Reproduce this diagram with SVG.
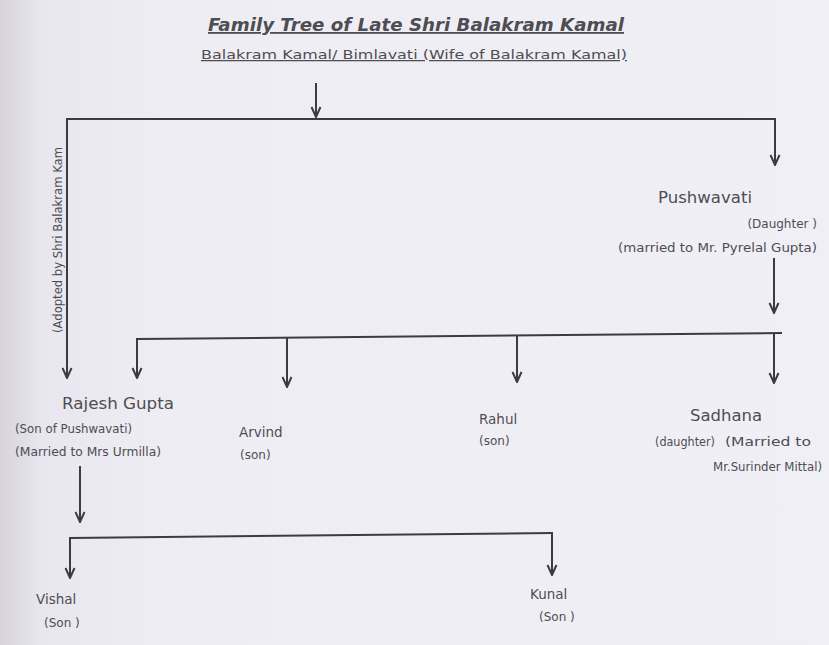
<svg xmlns="http://www.w3.org/2000/svg" width="829" height="645" viewBox="0 0 829 645">
<defs>
<linearGradient id="bg" x1="0" y1="0" x2="1" y2="0">
<stop offset="0" stop-color="#d6d3dc"/>
<stop offset="0.05" stop-color="#e8e6ee"/>
<stop offset="0.2" stop-color="#efedf4"/>
<stop offset="1" stop-color="#f1eff6"/>
</linearGradient>
<marker id="ah" viewBox="0 0 12 12" refX="11" refY="6" markerWidth="12" markerHeight="12" markerUnits="userSpaceOnUse" orient="auto">
<path d="M1,1.5 L11,6 L1,10.5" fill="none" stroke="#3c3c40" stroke-width="2"/>
</marker>
<style>
.ln{fill:none;stroke:#3c3c40;stroke-width:2}
.ar{fill:none;stroke:#3c3c40;stroke-width:2;marker-end:url(#ah)}
.t{font-family:"DejaVu Sans",Verdana,sans-serif;fill:#4e4d52}
.nm{font-size:16px}
.nm2{font-size:13.5px}
.sm{font-size:12px}
</style>
</defs>
<rect width="829" height="645" fill="url(#bg)"/>

<g id="title">
<text class="t" x="208" y="31" font-size="18" font-weight="bold" font-style="italic" textLength="416" lengthAdjust="spacingAndGlyphs" text-decoration="underline">Family Tree of Late Shri Balakram Kamal</text>
<text class="t" x="201" y="59" font-size="12.5" textLength="426" lengthAdjust="spacingAndGlyphs" text-decoration="underline">Balakram Kamal/ Bimlavati (Wife of Balakram Kamal)</text>
</g>

<g id="connectors">
<line class="ar" x1="316" y1="83" x2="316" y2="117"/>
<line class="ln" x1="66" y1="119" x2="776" y2="119"/>
<line class="ar" x1="67" y1="118" x2="67" y2="378"/>
<line class="ar" x1="775" y1="118" x2="775" y2="165"/>
<line class="ar" x1="774" y1="258" x2="774" y2="313"/>
<path class="ln" d="M137,339 L782,333"/>
<line class="ar" x1="137" y1="338" x2="137" y2="378"/>
<line class="ar" x1="287" y1="337" x2="287" y2="387"/>
<line class="ar" x1="517" y1="335" x2="517" y2="382"/>
<line class="ar" x1="774" y1="333" x2="774" y2="383"/>
<line class="ar" x1="80" y1="466" x2="80" y2="522"/>
<path class="ln" d="M70,538 L552,533"/>
<line class="ar" x1="552" y1="532" x2="552" y2="575"/>
<line class="ar" x1="70" y1="537" x2="70" y2="578"/>
</g>

<g id="adopted-note">
<text class="t sm" transform="translate(62,333) rotate(-90)" x="0" y="0" textLength="186" lengthAdjust="spacingAndGlyphs">(Adopted by Shri Balakram Kam</text>
</g>

<g id="pushwavati">
<text class="t nm" x="658" y="203" textLength="94" lengthAdjust="spacingAndGlyphs">Pushwavati</text>
<text class="t sm" x="817" y="228" text-anchor="end">(Daughter )</text>
<text class="t sm" x="618" y="252" textLength="199" lengthAdjust="spacingAndGlyphs">(married to Mr. Pyrelal Gupta)</text>
</g>

<g id="rajesh">
<text class="t nm" x="62" y="409" textLength="112" lengthAdjust="spacingAndGlyphs">Rajesh Gupta</text>
<text class="t sm" x="15" y="433" textLength="117" lengthAdjust="spacingAndGlyphs">(Son of Pushwavati)</text>
<text class="t sm" x="15" y="456" textLength="146" lengthAdjust="spacingAndGlyphs">(Married to Mrs Urmilla)</text>
</g>

<g id="arvind">
<text class="t nm2" x="239" y="437">Arvind</text>
<text class="t sm" x="240" y="459">(son)</text>
</g>

<g id="rahul">
<text class="t nm2" x="479" y="424">Rahul</text>
<text class="t sm" x="479" y="445">(son)</text>
</g>

<g id="sadhana">
<text class="t nm" x="690" y="421" textLength="72" lengthAdjust="spacingAndGlyphs">Sadhana</text>
<text class="t sm" x="655" y="446" textLength="60" lengthAdjust="spacingAndGlyphs">(daughter)</text>
<text class="t sm" x="725" y="446" textLength="86" lengthAdjust="spacingAndGlyphs">(Married to</text>
<text class="t sm" x="713" y="471" textLength="109" lengthAdjust="spacingAndGlyphs">Mr.Surinder Mittal)</text>
</g>

<g id="vishal">
<text class="t nm2" x="36" y="604">Vishal</text>
<text class="t sm" x="44" y="627">(Son )</text>
</g>

<g id="kunal">
<text class="t nm2" x="530" y="599">Kunal</text>
<text class="t sm" x="539" y="621">(Son )</text>
</g>
</svg>
